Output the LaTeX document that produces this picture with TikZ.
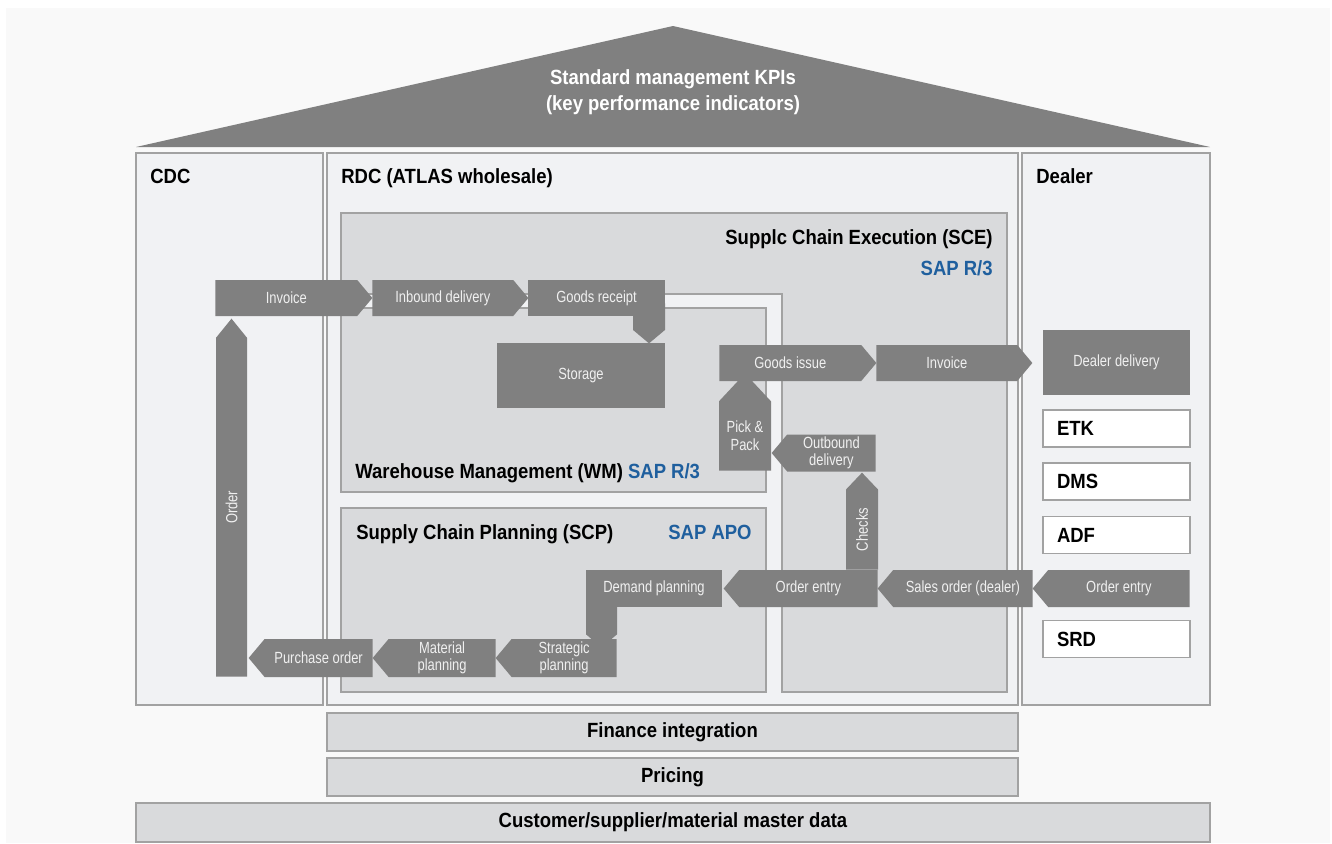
\documentclass[tikz,border=0pt]{standalone}
\usepackage{fontspec}
\setmainfont{Liberation Sans}
\newfontfamily\headfont{Liberation Sans}[FakeStretch=0.9]
\newfontfamily\flowfont{Liberation Sans}[FakeStretch=0.8]
\usetikzlibrary{shapes.symbols}

\definecolor{arrowgray}{HTML}{808080}
\definecolor{panelgray}{HTML}{D9DADC}
\definecolor{colfill}{HTML}{F1F2F4}
\definecolor{linegray}{HTML}{A2A2A2}
\definecolor{sapblue}{HTML}{1F5F9E}
\definecolor{pagebg}{HTML}{F9F9F9}
\newcommand{\pxu}{0.02cm}

\begin{document}
\begin{tikzpicture}[x=0.02cm, y=-0.02cm,
        dims/.style 2 args={minimum width={#1*\pxu}, minimum height={#2*\pxu}},
        head/.style={font={\headfont\bfseries\fontsize{11.7}{14.8}\selectfont}, inner sep=0pt},
        colbox/.style={draw=linegray, fill=colfill, line width=0.6pt, inner sep=0pt},
        panel/.style={draw=linegray, fill=panelgray, line width=0.6pt},
        panelbox/.style={panel, inner sep=0pt},
        flow/.style={signal, signal pointer angle=100, fill=arrowgray, text=white!94!black,
            font={\flowfont\fontsize{9.2}{10}\selectfont}, align=center, inner sep=0pt},
        flowbox/.style={flow, rectangle},
        sysbox/.style={draw=linegray, fill=white, line width=0.6pt, head, dims={147}{37},
            inner xsep={14*\pxu}, text width={119*\pxu}, align=left},
        barbox/.style={panelbox, head}
    ]

    % page
    \fill[white] (0,0) rectangle (1332,843);
    \fill[pagebg] (6,8) rectangle (1330,843);
    \useasboundingbox (0,0) rectangle (1332,843);

    % roof
    \fill[arrowgray] (136,147) -- (673,26) -- (1210,147) -- cycle;
    \node[head, text=white, align=center] (kpi) at (673,92) {Standard management KPIs\\(key performance indicators)};

    % columns
    \node[colbox, dims={187}{552}] (cdc) at (229.5,429) {};
    \node[colbox, dims={691}{552}] (rdc) at (672.5,429) {};
    \node[colbox, dims={188}{552}] (dealer) at (1116,429) {};
    \node[head, anchor=base west] (cdclabel) at (150,183) {CDC};
    \node[head, anchor=base west] (rdclabel) at (341,183) {RDC (ATLAS wholesale)};
    \node[head, anchor=base west] (dealerlabel) at (1036,183) {Dealer};

    % SCE, WM, SCP
    \draw[panel] (341,213) -- (1007,213) -- (1007,692) -- (782,692) -- (782,294) -- (341,294) -- cycle;
    \node[head, anchor=base east] (scelabel) at (993,244) {Supplc Chain Execution (SCE)};
    \node[head, anchor=base east, text=sapblue] (scesap) at (993,275) {SAP R/3};
    \node[panelbox, dims={425}{184}] (wm) at (553.5,400) {};
    \node[head, anchor=base west] (wmlabel) at (355,478) {Warehouse Management (WM) \textcolor{sapblue}{SAP R/3}};
    \node[panelbox, dims={425}{184}] (scp) at (553.5,600) {};
    \node[head, anchor=base west] (scplabel) at (356,539) {Supply Chain Planning (SCP)};
    \node[head, anchor=base east, text=sapblue] (scpsap) at (752,539) {SAP APO};

    % upper flow
    \node[flow, anchor=west, dims={157}{36}] (invcdc) at (215,298) {Invoice};
    \node[flow, anchor=west, dims={156}{36}] (inbound) at (372,298) {Inbound delivery};
    \node[flow, rotate=-90, anchor=west, dims={40}{32}] (grdown) at (649,303) {};
    \node[flowbox, dims={137}{36}] (receipt) at (596.5,298) {Goods receipt};
    \node[flowbox, dims={168}{65}] (storage) at (581,375.5) {Storage};
    \node[flow, anchor=west, dims={157}{36}] (issue) at (719,363) {Goods issue};
    \node[flow, anchor=west, dims={156}{36}] (invsce) at (876,363) {Invoice};
    \node[flowbox, dims={147}{65}] (delivery) at (1116.5,362.5) {Dealer delivery};
    \node[flow, signal to=north, signal pointer angle=86, anchor=south, dims={52}{89}] (pick) at (745,471) {Pick \&\\Pack};
    \node[flow, signal to=west, anchor=east, dims={104}{37}] (outbound) at (876,453) {Outbound\\delivery};

    % lower flow
    \node[flow, rotate=90, signal pointer angle=87, anchor=west, dims={97}{32}] (checks) at (862,570) {Checks};
    \node[flow, signal to=west, anchor=east, dims={154}{37}] (entrysce) at (878,588.5) {Order entry};
    \node[flow, signal to=west, anchor=east, dims={155}{37}] (sales) at (1033,588.5) {Sales order (dealer)};
    \node[flow, signal to=west, anchor=east, dims={157}{37}] (entrydealer) at (1190,588.5) {Order entry};
    \node[flow, signal to=south, anchor=north, dims={31}{40}] (dpdown) at (601.5,594) {};
    \node[flowbox, dims={136}{37}] (demand) at (654,588.5) {Demand planning};
    \node[flow, signal to=west, anchor=east, dims={121}{38}] (strategic) at (617,658) {Strategic\\planning};
    \node[flow, signal to=west, anchor=east, dims={123}{38}] (material) at (496,658) {Material\\planning};
    \node[flow, signal to=west, anchor=east, dims={124}{38}] (purchase) at (373,658) {Purchase order};
    \node[flow, rotate=90, signal pointer angle=78, anchor=west, dims={358}{31}] (order) at (231.5,677) {Order};

    % dealer systems
    \node[sysbox] (etk) at (1116.5,428.5) {ETK};
    \node[sysbox] (dms) at (1116.5,481.5) {DMS};
    \node[sysbox] (adf) at (1116.5,535) {ADF};
    \node[sysbox] (srd) at (1116.5,639) {SRD};

    % foundation
    \node[barbox, dims={691}{38}] (finance) at (672.5,732) {Finance integration};
    \node[barbox, dims={691}{38}] (pricing) at (672.5,777) {Pricing};
    \node[barbox, dims={1074}{39}] (master) at (673,822.5) {Customer/supplier/material master data};
\end{tikzpicture}
\end{document}
